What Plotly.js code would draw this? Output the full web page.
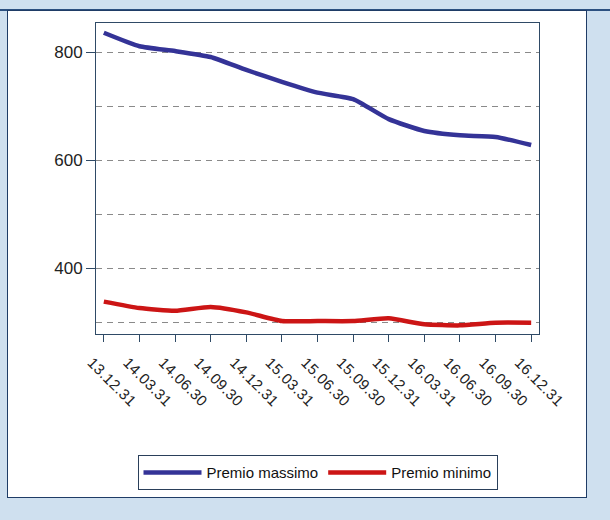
<!DOCTYPE html>
<html>
<head>
<meta charset="utf-8">
<script src="https://cdn.plot.ly/plotly-3.0.1.min.js"></script>
<style>
  html, body { margin: 0; padding: 0; background: #cfe0ef; width: 610px; height: 520px; overflow: hidden; }
  #topline { position: absolute; left: 0; top: 9px; width: 610px; height: 2px; background: #2c5080; }
  #frame { position: absolute; left: 7px; top: 10px; width: 578px; height: 486px; border: 1px solid #1f3c66; background: #ffffff; }
  #chart { width: 578px; height: 486px; }
  #chart .xtick text { letter-spacing: 0.4px; }
</style>
</head>
<body>
<div id="topline"></div>
<div id="frame"><div id="chart"></div></div>
<script>
const dates = ["13.12.31","14.03.31","14.06.30","14.09.30","14.12.31","15.03.31","15.06.30",
               "15.09.30","15.12.31","16.03.31","16.06.30","16.09.30","16.12.31"];
const premioMassimo = [836, 811, 802, 791, 767, 745, 725, 713, 676, 654, 646, 643, 628];
const premioMinimo  = [338, 326, 321, 328, 318, 302, 302, 302, 307, 296, 294, 299, 299];
const seriesNames = ["Premio massimo", "Premio minimo"];

const fontFam = "Liberation Sans, Arial, sans-serif";

const traces = [
  { x: dates, y: premioMassimo, name: seriesNames[0], type: "scatter", mode: "lines",
    line: { color: "#343397", width: 4.5, shape: "spline", smoothing: 0.5 } },
  { x: dates, y: premioMinimo, name: seriesNames[1], type: "scatter", mode: "lines",
    line: { color: "#cc1515", width: 4.5, shape: "spline", smoothing: 0.5 } }
];

const layout = {
  width: 578, height: 486,
  margin: { l: 88, r: 47, t: 12, b: 163, autoexpand: false },
  paper_bgcolor: "#ffffff",
  plot_bgcolor: "#ffffff",
  font: { family: fontFam, color: "#222222" },
  showlegend: true,
  legend: {
    orientation: "h", x: 0.5, xanchor: "center", y: -0.39, yanchor: "top",
    bordercolor: "#2a3f5a", borderwidth: 1, bgcolor: "#ffffff",
    font: { family: fontFam, size: 15, color: "#111111" },
    itemwidth: 58, tracegroupgap: 0
  },
  xaxis: {
    type: "category", range: [-0.22, 12.22],
    showline: true, mirror: true, linecolor: "#2f4a66", linewidth: 1,
    ticks: "outside", ticklen: 7, tickcolor: "#2f4a66",
    tickangle: 45, tickfont: { family: fontFam, size: 15, color: "#222222" },
    ticklabelshift: -12, ticklabelstandoff: 6,
    showgrid: false, zeroline: false
  },
  yaxis: {
    range: [278, 854], tick0: 0, dtick: 200,
    showline: true, mirror: true, linecolor: "#2f4a66", linewidth: 1,
    ticks: "outside", ticklen: 9, tickcolor: "#2f4a66",
    tickfont: { family: fontFam, size: 17, color: "#222222" },
    showgrid: true, gridcolor: "#8a8a8a", gridwidth: 1, griddash: "6px,5px",
    minor: { dtick: 100, showgrid: true, gridcolor: "#8a8a8a", gridwidth: 1, griddash: "6px,5px", ticks: "" },
    zeroline: false
  }
};

Plotly.newPlot("chart", traces, layout, { displayModeBar: false, staticPlot: true });
</script>
</body>
</html>
